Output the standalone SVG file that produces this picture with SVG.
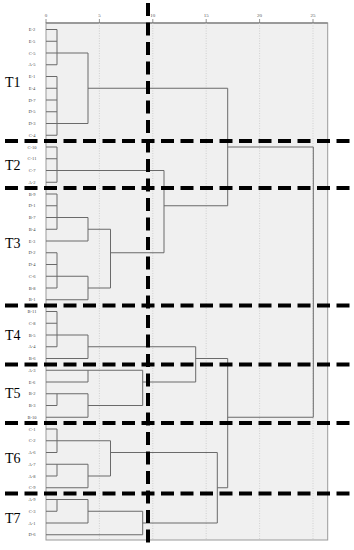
<svg xmlns="http://www.w3.org/2000/svg" width="354" height="550" viewBox="0 0 354 550">
<style>
.ln{fill:none;stroke:#6a6a6a;stroke-width:1}
.grid{stroke:#c8c8c8;stroke-width:0.8;stroke-dasharray:1 1.5}
.tick{stroke:#777;stroke-width:0.8}
.tl{font-family:"Liberation Serif",serif;font-size:5px;fill:#555;text-anchor:middle}
.leaf text{font-family:"Liberation Serif",serif;font-size:4.5px;fill:#444;text-anchor:middle}
.grp text{font-family:"Liberation Serif",serif;font-size:14px;fill:#000}
.dash{stroke:#000;stroke-width:4;stroke-dasharray:13 6.5;fill:none}
</style>
<rect x="46" y="23" width="281.7" height="517" fill="#f0f0f0" stroke="#9a9a9a" stroke-width="1"/>
<line x1="46" y1="23" x2="327.7" y2="23" stroke="#8a8a8a" stroke-width="1.6"/>
<g id="axis">
<line class="grid" x1="99.4" y1="23" x2="99.4" y2="540"/>
<line class="grid" x1="152.8" y1="23" x2="152.8" y2="540"/>
<line class="grid" x1="206.2" y1="23" x2="206.2" y2="540"/>
<line class="grid" x1="259.6" y1="23" x2="259.6" y2="540"/>
<line class="grid" x1="313" y1="23" x2="313" y2="540"/>
<line class="tick" x1="46" y1="19" x2="46" y2="23"/>
<line class="tick" x1="99.4" y1="19" x2="99.4" y2="23"/>
<line class="tick" x1="152.8" y1="19" x2="152.8" y2="23"/>
<line class="tick" x1="206.2" y1="19" x2="206.2" y2="23"/>
<line class="tick" x1="259.6" y1="19" x2="259.6" y2="23"/>
<line class="tick" x1="313" y1="19" x2="313" y2="23"/>
<text class="tl" x="46" y="17">0</text>
<text class="tl" x="99.4" y="17">5</text>
<text class="tl" x="152.8" y="17">10</text>
<text class="tl" x="206.2" y="17">15</text>
<text class="tl" x="259.6" y="17">20</text>
<text class="tl" x="313" y="17">25</text>
</g>
<g id="connectors">
<path class="ln" d="M46 29.5H57M46 41.25H57M46 53H88M46 64.75H57M57 29.5V64.75M46 76.5H57M46 88.25H57M46 100H57M46 111.75H57M46 123.5H88M46 135.25H57M57 76.5V135.25M88 53V123.5M88 88.25H227.7"/>
<path class="ln" d="M46 147H57M46 158.75H57M46 170.5H164M46 182.25H57M57 147V182.25"/>
<path class="ln" d="M46 194H57M46 205.75H57M46 217.5H88M46 229.25H57M57 194V229.25M46 241H88M88 217.5V241M88 229.25H110.5M46 252.75H57M46 264.5H57M46 276.25H88M46 288H57M57 252.75V288M46 299.75H88M88 276.25V299.75M88 288H110.5M110.5 229.25V288M110.5 252.75H164M164 170.5V252.75M164 205.75H227.7M227.7 88.25V205.75M227.7 147H313.3"/>
<path class="ln" d="M46 311.5H57M46 323.25H57M46 335H88M46 346.75H57M57 311.5V346.75M46 358.5H88M88 335V358.5M88 346.75H195.7"/>
<path class="ln" d="M46 370.25H142.7M46 382H88M88 370.25V382M46 393.75H88M46 405.5H57M57 393.75V405.5M46 417.25H88M88 393.75V417.25M88 405.5H142.7M142.7 370.25V405.5M142.7 382H195.7M195.7 346.75V382M195.7 358.5H227.7"/>
<path class="ln" d="M46 429H57M46 440.75H110.5M46 452.5H57M57 429V452.5M46 464.25H88M46 476H57M57 464.25V476M46 487.75H88M88 464.25V487.75M88 476H110.5M110.5 440.75V476M110.5 452.5H217.3"/>
<path class="ln" d="M46 499.5H88M46 511.25H57M57 499.5V511.25M46 523H88M88 499.5V523M88 511.25H142.7M46 534.75H142.7M142.7 511.25V534.75M142.7 523H217.3M217.3 452.5V523M217.3 487.75H227.7M227.7 358.5V487.75M227.7 417.25H313.3M313.3 147V417.25"/>
</g>
<g class="leaf">
<g id="leaf-E-2"><text x="32" y="31.1">E-2</text></g>
<g id="leaf-E-5"><text x="32" y="42.85">E-5</text></g>
<g id="leaf-C-5"><text x="32" y="54.6">C-5</text></g>
<g id="leaf-A-5"><text x="32" y="66.35">A-5</text></g>
<g id="leaf-E-1"><text x="32" y="78.1">E-1</text></g>
<g id="leaf-E-4"><text x="32" y="89.85">E-4</text></g>
<g id="leaf-D-7"><text x="32" y="101.6">D-7</text></g>
<g id="leaf-D-5"><text x="32" y="113.35">D-5</text></g>
<g id="leaf-D-3"><text x="32" y="125.1">D-3</text></g>
<g id="leaf-C-4"><text x="32" y="136.85">C-4</text></g>
<g id="leaf-C-10"><text x="32" y="148.6">C-10</text></g>
<g id="leaf-C-11"><text x="32" y="160.35">C-11</text></g>
<g id="leaf-C-7"><text x="32" y="172.1">C-7</text></g>
<g id="leaf-A-2"><text x="32" y="183.85">A-2</text></g>
<g id="leaf-B-9"><text x="32" y="195.6">B-9</text></g>
<g id="leaf-D-1"><text x="32" y="207.35">D-1</text></g>
<g id="leaf-B-7"><text x="32" y="219.1">B-7</text></g>
<g id="leaf-B-4"><text x="32" y="230.85">B-4</text></g>
<g id="leaf-E-3"><text x="32" y="242.6">E-3</text></g>
<g id="leaf-D-2"><text x="32" y="254.35">D-2</text></g>
<g id="leaf-D-4"><text x="32" y="266.1">D-4</text></g>
<g id="leaf-C-6"><text x="32" y="277.85">C-6</text></g>
<g id="leaf-B-8"><text x="32" y="289.6">B-8</text></g>
<g id="leaf-B-1"><text x="32" y="301.35">B-1</text></g>
<g id="leaf-B-11"><text x="32" y="313.1">B-11</text></g>
<g id="leaf-C-8"><text x="32" y="324.85">C-8</text></g>
<g id="leaf-B-5"><text x="32" y="336.6">B-5</text></g>
<g id="leaf-A-4"><text x="32" y="348.35">A-4</text></g>
<g id="leaf-B-6"><text x="32" y="360.1">B-6</text></g>
<g id="leaf-A-3"><text x="32" y="371.85">A-3</text></g>
<g id="leaf-E-6"><text x="32" y="383.6">E-6</text></g>
<g id="leaf-B-2"><text x="32" y="395.35">B-2</text></g>
<g id="leaf-B-3"><text x="32" y="407.1">B-3</text></g>
<g id="leaf-B-10"><text x="32" y="418.85">B-10</text></g>
<g id="leaf-C-1"><text x="32" y="430.6">C-1</text></g>
<g id="leaf-C-2"><text x="32" y="442.35">C-2</text></g>
<g id="leaf-A-6"><text x="32" y="454.1">A-6</text></g>
<g id="leaf-A-7"><text x="32" y="465.85">A-7</text></g>
<g id="leaf-A-8"><text x="32" y="477.6">A-8</text></g>
<g id="leaf-C-9"><text x="32" y="489.35">C-9</text></g>
<g id="leaf-A-9"><text x="32" y="501.1">A-9</text></g>
<g id="leaf-C-3"><text x="32" y="512.85">C-3</text></g>
<g id="leaf-A-1"><text x="32" y="524.6">A-1</text></g>
<g id="leaf-D-6"><text x="32" y="536.35">D-6</text></g>
</g>
<g class="grp">
<g id="T1"><text x="5" y="86.5">T1</text></g>
<g id="T2"><text x="5" y="169.5">T2</text></g>
<g id="T3"><text x="5" y="248">T3</text></g>
<g id="T4"><text x="5" y="339.5">T4</text></g>
<g id="T5"><text x="5" y="397.5">T5</text></g>
<g id="T6"><text x="5" y="462.5">T6</text></g>
<g id="T7"><text x="5" y="522.5">T7</text></g>
</g>
<g id="cutoffs">
<line class="dash" x1="5" y1="141.1" x2="354" y2="141.1"/>
<line class="dash" x1="5" y1="188.1" x2="354" y2="188.1"/>
<line class="dash" x1="5" y1="305.6" x2="354" y2="305.6"/>
<line class="dash" x1="5" y1="364.4" x2="354" y2="364.4"/>
<line class="dash" x1="5" y1="423.1" x2="354" y2="423.1"/>
<line class="dash" x1="5" y1="493.6" x2="354" y2="493.6"/>
<line class="dash" x1="148" y1="3" x2="148" y2="548"/>
</g>
</svg>
